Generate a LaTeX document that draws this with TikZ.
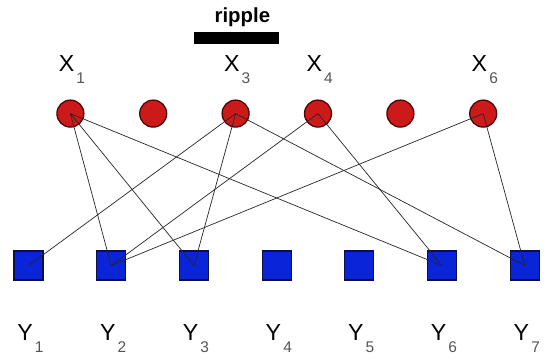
\documentclass[tikz,border=0pt]{standalone}
\usepackage{xcolor}
\usepackage{fontspec}
\setmainfont{Liberation Sans}
\usepackage{tikz}
\usetikzlibrary{positioning}
\definecolor{varred}{HTML}{CC1A1A}
\definecolor{varredline}{HTML}{4A0303}
\definecolor{checkblue}{HTML}{0A24DA}
\definecolor{checkblueline}{HTML}{0B1048}
\definecolor{subgray}{HTML}{555555}
\newcommand{\varlabel}[2]{#1\hspace{1.5pt}\raisebox{-0.55em}{\color{subgray}\fontsize{11}{12}\selectfont #2}}

\begin{document}
\begin{tikzpicture}[
  x=1cm,y=1cm,
  varnode/.style={circle,draw=varredline,fill=varred,line width=0.9pt,
    minimum size=0.675cm,inner sep=0pt},
  checknode/.style={rectangle,draw=checkblueline,fill=checkblue,line width=0.9pt,
    minimum size=0.725cm,inner sep=0pt},
  namelabel/.style={font=\fontsize{16.5}{18}\selectfont,inner sep=0pt,anchor=base},
  link/.style={draw=black!85,line width=0.5pt}
]
\useasboundingbox (0,0) rectangle (13.625,9);
% ripple bar
\node[font=\bfseries\fontsize{14.5}{16}\selectfont,anchor=base,inner sep=0pt]
  (ripple) at (6.06,8.43) {ripple};
\node[fill=black,minimum width=2.125cm,minimum height=0.3cm,inner sep=0pt]
  (ripplebar) at (5.91,8.05) {};

% variable nodes
\node[varnode] (x1) at (1.76,6.16) {};
\node[varnode] (x2) at (3.83,6.16) {};
\node[varnode] (x3) at (5.89,6.16) {};
\node[varnode] (x4) at (7.95,6.16) {};
\node[varnode] (x5) at (10.01,6.16) {};
\node[varnode] (x6) at (12.08,6.16) {};
\node[namelabel] (lx1) at (1.80,7.22) {\varlabel{X}{1}};
\node[namelabel] (lx3) at (5.93,7.22) {\varlabel{X}{3}};
\node[namelabel] (lx4) at (7.99,7.22) {\varlabel{X}{4}};
\node[namelabel] (lx6) at (12.12,7.22) {\varlabel{X}{6}};

% check nodes
\node[checknode] (y1) at (0.71,2.36) {};
\node[checknode] (y2) at (2.78,2.36) {};
\node[checknode] (y3) at (4.85,2.36) {};
\node[checknode] (y4) at (6.92,2.36) {};
\node[checknode] (y5) at (8.98,2.36) {};
\node[checknode] (y6) at (11.05,2.36) {};
\node[checknode] (y7) at (13.12,2.36) {};
\node[namelabel] (ly1) at (0.76,0.50) {\varlabel{Y}{1}};
\node[namelabel] (ly2) at (2.83,0.50) {\varlabel{Y}{2}};
\node[namelabel] (ly3) at (4.90,0.50) {\varlabel{Y}{3}};
\node[namelabel] (ly4) at (6.97,0.50) {\varlabel{Y}{4}};
\node[namelabel] (ly5) at (9.03,0.50) {\varlabel{Y}{5}};
\node[namelabel] (ly6) at (11.10,0.50) {\varlabel{Y}{6}};
\node[namelabel] (ly7) at (13.17,0.50) {\varlabel{Y}{7}};

% edges
\draw[link] (x1.center) -- (y2.center);
\draw[link] (x1.center) -- (y3.center);
\draw[link] (x1.center) -- (y6.center);
\draw[link] (x3.center) -- (y1.center);
\draw[link] (x3.center) -- (y3.center);
\draw[link] (x3.center) -- (y7.center);
\draw[link] (x4.center) -- (y2.center);
\draw[link] (x4.center) -- (y6.center);
\draw[link] (x6.center) -- (y2.center);
\draw[link] (x6.center) -- (y7.center);
\end{tikzpicture}
\end{document}
